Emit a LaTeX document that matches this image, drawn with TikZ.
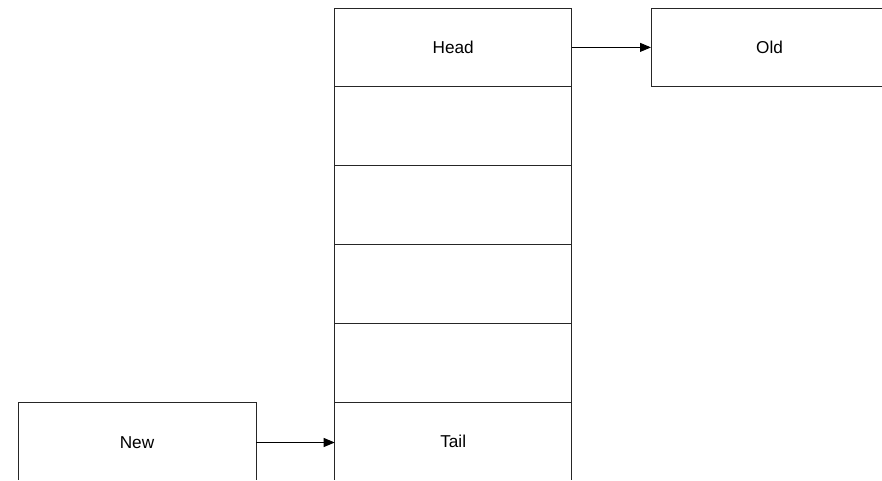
\documentclass[tikz,border=0pt]{standalone}
\usepackage{fontspec}
\setmainfont{Liberation Sans}
\usetikzlibrary{arrows.meta}
\begin{document}
\begin{tikzpicture}[x=1pt,y=-1pt,
  cell/.style={draw=black!85,line width=0.9pt,minimum width=237pt,minimum height=78.8pt,
    inner sep=0pt,outer sep=0pt,anchor=north west,font=\fontsize{17.2pt}{20pt}\selectfont},
  link/.style={draw=black,line width=0.9pt,-{Triangle[length=11pt,width=9pt]}}]
  \useasboundingbox (0,0) rectangle (882,481);
  \begin{scope}
    \clip (0,0) rectangle (882,481);
    % queue column
    \node[cell] (head) at (334.7,8) {Head};
    \node[cell] (c2) at (334.7,86.8) {};
    \node[cell] (c3) at (334.7,165.6) {};
    \node[cell] (c4) at (334.7,244.4) {};
    \node[cell] (c5) at (334.7,323.2) {};
    \node[cell] (tail) at (334.7,402) {Tail};
    % removed and inserted items
    \node[cell] (old) at (651,8) {Old};
    \node[cell,minimum width=238pt,minimum height=79.4pt] (new) at (18,402.8) {New};
    % connectors
    \draw[link] (head.east) -- (head.east -| old.west);
    \draw[link] (new.east) -- (new.east -| tail.west);
  \end{scope}
  % white strip hides the lower edges that fall on the border
  \fill[white] (0,480.2) rectangle (882,481);
\end{tikzpicture}
\end{document}
